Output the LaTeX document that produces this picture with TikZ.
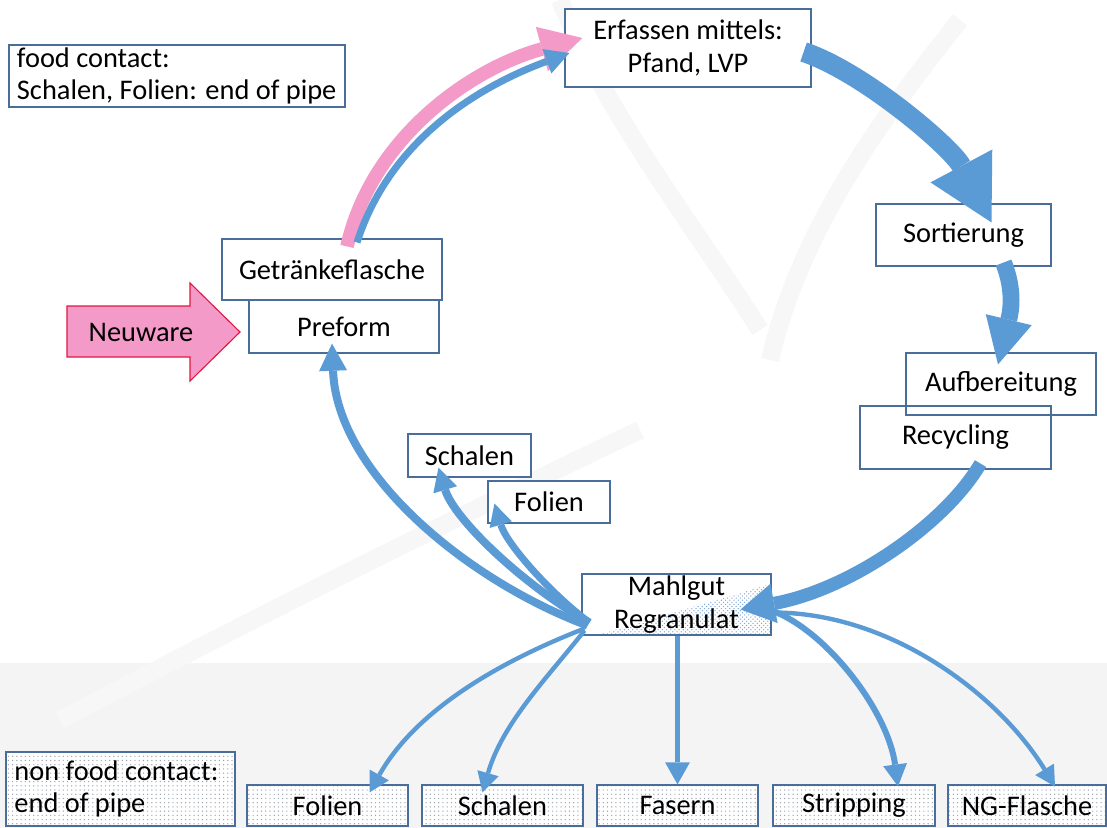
\documentclass[tikz,border=0pt]{standalone}
\usepackage{fontspec}
\setmainfont{Carlito}
\usepackage{tikz}
\usetikzlibrary{arrows.meta,calc,patterns}
\definecolor{flow}{HTML}{5B9BD5}
\definecolor{rose}{HTML}{F49AC8}
\definecolor{alarm}{HTML}{E3173F}
\definecolor{edge}{HTML}{4A6E9C}
\definecolor{haze}{HTML}{F4F4F4}
\definecolor{streak}{HTML}{F7F7F7}
\definecolor{speck}{HTML}{9AA3AD}
\definecolor{grain}{HTML}{7FA8D6}

\tikzset{
  label/.style={font=\fontsize{20.2}{23}\selectfont},
  box/.style={label, draw=edge, line width=0.8pt, fill=white, inner sep=0pt, align=center},
  dotbox/.style={label, draw=edge, line width=0.8pt, preaction={fill=white},
    pattern=dots, pattern color=speck, inner sep=0pt, align=center},
  pipe/.style n args={4}{draw=#1, line width=#2,
    -{Triangle[width=#3, length=#4, line width=0pt]}}
}

\begin{document}
\begin{tikzpicture}[x=0.025cm, y=-0.025cm]
\useasboundingbox (0,0) rectangle (1107,828);
\fill[white] (0,0) rectangle (1107,828);
\fill[haze] (0,663) rectangle (1107,828);
% faint background swooshes
\begin{scope}[draw=streak, line width=0.45cm]
  \draw (560,0) .. controls (610,120) and (690,220) .. (760,330);
  \draw (960,20) .. controls (880,120) and (800,230) .. (770,360);
  \draw (60,720) .. controls (250,620) and (450,520) .. (640,430);
\end{scope}

% top and left boxes
\node[box, minimum width=8.4cm, minimum height=1.55cm, text width=8.0cm, align=flush left] (food) at (177,76) {food contact:\\Schalen, Folien: end of pipe};
\node[box, minimum width=6.15cm, minimum height=1.95cm] (erfassen) at (688,48) {Erfassen mittels:\\Pfand, LVP};
\node[box, minimum width=4.75cm, minimum height=1.325cm] (preform) at (344,326.5) {Preform};
\node[box, minimum width=5.5cm, minimum height=1.525cm] (getr) at (332,269.5) {Getränkeflasche};

% right column
\node[box, minimum width=4.375cm, minimum height=1.55cm] (sort) at (963.5,235) {Sortierung};
\node[box, fill=none, minimum width=4.775cm, minimum height=1.575cm] (recyc) at (955.5,437.5) {Recycling};
\node[box, fill=none, minimum width=4.75cm, minimum height=1.55cm] (aufb) at (1001,384) {Aufbereitung};

% centre
\node[box, minimum width=4.725cm, minimum height=1.525cm,
  path picture={\fill[pattern=crosshatch dots, pattern color=grain]
    ([xshift=0.4cm]path picture bounding box.south west) -- (path picture bounding box.south east)
    -- ([yshift=-0.25cm]path picture bounding box.north east) -- cycle;}] (mahl) at (676.5,604.5) {Mahlgut\\Regranulat};
\node[box, minimum width=3.075cm, minimum height=1.075cm] (schalenA) at (469.5,455.5) {Schalen};
\node[box, minimum width=3.05cm, minimum height=1.05cm] (folienA) at (549,502) {Folien};

% bottom row
\node[dotbox, minimum width=5.725cm, minimum height=1.85cm, text width=5.3cm, align=flush left] (nonfood) at (120.5,789) {non food contact:\\end of pipe};
\foreach \name/\x/\w/\txt in {folienB/327.5/4.025/Folien, schalenB/502.5/4.025/Schalen, fasern/677.5/4.025/Fasern, strip/854/4.05/Stripping, ngfl/1027/3.95/NG-Flasche}
  \node[dotbox, minimum width=\w cm, minimum height=1.025cm] (\name) at (\x,805.5) {\txt};

% Neuware
\draw[fill=rose, draw=alarm, line width=0.8pt] (67,306) -- (190,306) -- (190,283) -- (240,332) -- (190,381) -- (190,357) -- (67,357) -- cycle;
\node[label] (neu) at (141,332) {Neuware};

% cycle
\draw[pipe={rose}{0.34cm}{1.15cm}{1.05cm}] ($(getr.north)+(15,8)$) .. controls +(25,-110) and +(-110,30) .. ($(erfassen.west)+(18,-10)$);
\draw[pipe={flow}{0.175cm}{0.65cm}{0.6cm}] ($(getr.north)+(25,4)$) .. controls +(32,-100) and +(-95,35) .. ($(erfassen.west)+(5,5)$);
\draw[pipe={flow}{0.5cm}{1.75cm}{1.6cm}] ($(erfassen.east)+(-8,4)$) .. controls +(60,20) and +(-40,-75) .. ($(sort.north)+(28,19)$);
\draw[pipe={flow}{0.42cm}{1.18cm}{1.15cm}] ($(sort.south)+(40,-4)$) .. controls +(12,30) and +(12,-50) .. ($(aufb.north)+(-3,12)$);
\draw[pipe={flow}{0.33cm}{1.0cm}{0.85cm}] ($(recyc.south)+(25,-6)$) .. controls +(-35,60) and +(110,-20) .. ($(mahl.east)+(-31,5)$);
\draw[pipe={flow}{0.2cm}{0.7cm}{0.68cm}] ($(mahl.south west)+(6,-10)$) .. controls +(-120,-45) and +(5,130) .. ($(preform.south)+(-12,-10)$);

% food contact outputs
\draw[pipe={flow}{0.2cm}{0.62cm}{0.58cm}] ($(mahl.south west)+(8,-13)$) .. controls +(-70,-40) and +(15,50) .. ($(schalenA.south)+(-31,-10)$);
\draw[pipe={flow}{0.175cm}{0.58cm}{0.55cm}] ($(mahl.south west)+(8,-13)$) .. controls +(-40,-30) and +(12,40) .. ($(folienA.south west)+(7,-20)$);

% non food contact outputs
\draw[pipe={flow}{0.11cm}{0.55cm}{0.5cm}] ($(mahl.south west)+(3,-7)$) .. controls +(-90,35) and +(45,-80) .. ($(folienB.north)+(42,8)$);
\draw[pipe={flow}{0.11cm}{0.55cm}{0.5cm}] ($(mahl.south west)+(3,-5)$) .. controls +(-35,45) and +(20,-70) .. ($(schalenB.north)+(-20,8)$);
\draw[pipe={flow}{0.14cm}{0.62cm}{0.55cm}] ($(mahl.south)+(1,0)$) -- (fasern.north);
\draw[pipe={flow}{0.15cm}{0.6cm}{0.55cm}] ($(mahl.east)+(0,6)$) .. controls +(55,20) and +(-10,-75) .. ($(strip.north)+(44,2)$);
\draw[pipe={flow}{0.11cm}{0.55cm}{0.5cm}] ($(mahl.east)+(1,8)$) .. controls +(120,0) and +(-55,-90) .. ($(ngfl.north)+(28,2)$);
\end{tikzpicture}
\end{document}
